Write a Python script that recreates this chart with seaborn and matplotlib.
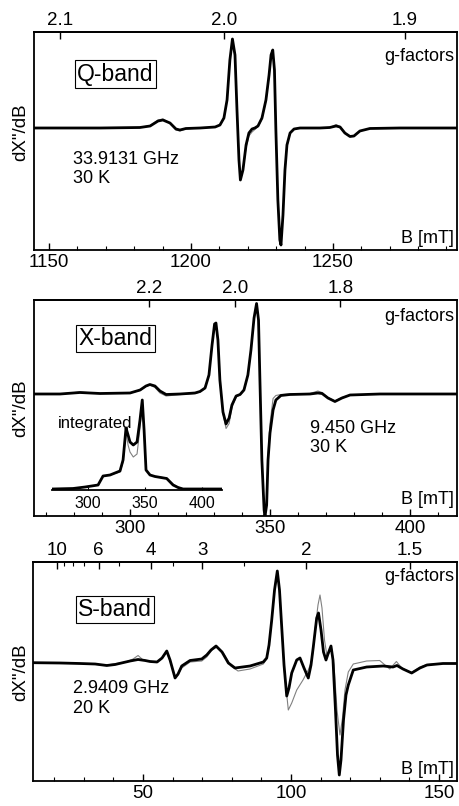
import numpy as np
import pandas as pd
import matplotlib
matplotlib.use("Agg")
import matplotlib.pyplot as plt
import seaborn as sns
from matplotlib.ticker import MultipleLocator, FixedLocator, NullFormatter

sns.set_theme(style="ticks")
plt.rcParams['font.family'] = ['Liberation Sans', 'DejaVu Sans']
plt.rcParams.update({"text.color": "black", "axes.labelcolor": "black",
                     "xtick.color": "black", "ytick.color": "black",
                     "axes.edgecolor": "black"})

# ---------------- data ----------------
# Q-band, 33.9131 GHz
q_freq = 33.9131
q_B = [1144.7, 1168.0, 1182.0, 1185.6, 1188.4, 1190.1, 1192.6, 1194.7, 1196.1, 1198.2,
       1203.2, 1208.5, 1210.2, 1211.6, 1212.7, 1213.7, 1214.6, 1215.5, 1216.2, 1216.9,
       1217.4, 1218.3, 1219.4, 1220.4, 1221.5, 1222.5, 1223.6, 1225.0, 1226.4, 1227.5,
       1228.2, 1228.8, 1229.4, 1229.9, 1230.6, 1231.3, 1231.7, 1232.4, 1233.1, 1233.8,
       1234.9, 1236.3, 1238.4, 1245.4, 1248.9, 1251.1, 1252.5, 1254.2, 1256.0, 1257.4,
       1259.5, 1263.0, 1273.6, 1293.7]
q_exp = [0, 0, 0.5, 2, 7, 8, 5, -1, -2, -0.5,
         0, 1, 3, 10, 28, 68, 89, 73, 18, -32,
         -52, -42, -17, -5, -1, 0, 2, 10, 28, 53,
         73, 78, 58, -2, -72, -112, -117, -87, -42, -17,
         -5, -1, 0, 0, 0.5, 2, 1, -5, -8.5, -8,
         -3, -0.5, 0, 0]
q_sim = [0, 0, 0.5, 2.5, 8, 9, 5, -2, -3, -1,
         0, 1, 3, 10, 28, 67, 88, 72, 20, -30,
         -50, -42, -20, -8, -4, -1.5, 1.5, 9, 27, 52,
         72, 77, 60, 0, -70, -110, -116, -88, -44, -18,
         -5, -1, 0, 0, 0.5, 3.5, 1.5, -5, -8, -8,
         -3, -0.5, 0, 0]
q_g_major = [2.1, 2.0, 1.9]
q_g_labels = ["2.1", "2.0", "1.9"]
q_B_ticks = [1150, 1200, 1250]

# X-band, 9.450 GHz
x_freq = 9.450
x_B = [265.7, 275.0, 282.1, 289.3, 300.0, 303.6, 305.7, 307.1, 308.9, 310.7,
       312.9, 317.9, 323.2, 325.0, 326.8, 328.2, 329.3, 330.2, 330.7, 331.4,
       332.1, 333.2, 334.3, 335.4, 336.4, 337.9, 339.3, 340.7, 342.1, 343.2,
       344.3, 345.2, 345.9, 346.4, 347.1, 347.9, 348.2, 348.8, 349.3, 350.0,
       351.1, 352.1, 353.9, 357.1, 364.3, 367.1, 368.6, 370.7, 373.2, 375.7,
       378.6, 389.3, 416.8]
x_exp = [-0.5, -0.5, 1, 0, 0.5, 3.5, 7.5, 9, 7.5, 2.5,
         -1, -0.5, 0.5, 2, 5.5, 18.5, 48.5, 69.5, 70.5, 53.5,
         13.5, -18.5, -30.5, -24.5, -11.5, -2.5, -1, 3.5, 18.5, 43.5,
         75.5, 90, 73.5, 13.5, -66.5, -116.5, -123, -111.5, -66.5, -39.5,
         -16.5, -6.5, -2, -1, -0.5, 0.5, 0, -4.5, -8, -4.5,
         -1.5, -0.5, -0.5]
x_sim = [-0.5, -0.5, 1.5, 0, 0.5, 3, 7, 8.5, 6, 0.5,
         -2.5, -1, 0, 1.5, 5, 18, 47, 68, 69.5, 53,
         15, -20, -35, -30, -14, -3.5, -1.5, 3, 18, 43,
         75, 89, 73, 13, -66, -116, -123, -110, -60, -30,
         -5, -2, -1, -0.5, 0, 2.5, 1, -4, -7.5, -4,
         -1.5, -0.5, -0.5]
x_g_major = [2.2, 2.0, 1.8]
x_g_labels = ["2.2", "2.0", "1.8"]
x_B_ticks = [300, 350, 400]

# X-band integrated spectrum (inset)
int_B = [268.3, 286.8, 297.4, 308.8, 313.2, 319.3, 328.1, 330.8, 333.4, 335.2,
         336.9, 339.8, 343.1, 345.7, 347.7, 349.3, 351.0, 354.5, 358.9, 369.2,
         374.8, 379.2, 383.6, 417.6]
int_exp = [1, 1.5, 3, 5, 14, 15, 19, 30, 62, 55,
           48, 45, 48, 70, 90, 60, 20, 15, 13.5, 11.5,
           5, 2.5, 1, 1]
int_sim = [1, 1.5, 3, 5, 14, 15, 18, 28, 58, 45,
           38, 33, 36, 62, 88, 58, 20, 15, 13.5, 12,
           6, 3, 1, 1]
int_B_ticks = [300, 350, 400]

# S-band, 2.9409 GHz
s_freq = 2.9409
s_B_exp = [12.84, 21.96, 28.72, 33.78, 37.74, 40.54, 45.61, 48.31, 50.68, 52.36,
           54.73, 56.42, 58.01, 59.12, 60.81, 61.82, 63.07, 65.88, 69.83, 71.52,
           72.97, 74.66, 76.69, 78.82, 81.08, 86.15, 90.64, 91.79, 92.57, 93.48,
           94.43, 95.37, 96.11, 96.86, 97.64, 98.55, 99.32, 100.24, 101.93, 103.04,
           104.39, 105.84, 106.76, 107.53, 108.68, 109.29, 110.14, 110.98, 111.82, 112.50,
           113.51, 114.19, 115.03, 115.71, 116.32, 116.89, 117.74, 118.58, 119.36, 121.05,
           125.57, 131.18, 134.46, 135.81, 137.84, 140.78, 143.58, 145.95, 151.35, 156.08]
s_exp = [1.3, 1, 0.5, 0, -1.5, -0.5, 3, 4.5, 3.5, 2.5,
         2, 6, 13, 4, -14, -10, -2, 3.5, 5, 9,
         14, 18, 12, 1, -4, -2, 2, 6, 19, 44,
         74, 93, 74, 37, -1, -32, -24, -9, 4, 6,
         -4, -14, -1, 17, 46, 51, 34, 12, 4, 10,
         18, 4, -46, -91, -111, -96, -56, -31, -21, -6,
         -3, -2, -3, -1.5, -5, -9, -4, -1, 0.5, 0.5]
s_B_sim = [12.84, 28.72, 37.74, 44.26, 46.62, 48.31, 50.0, 52.36, 54.73, 56.42,
           58.01, 59.12, 60.81, 61.82, 63.07, 65.88, 69.83, 71.52, 73.31, 75.0,
           77.36, 79.73, 82.09, 86.15, 90.64, 91.79, 92.57, 93.48, 94.43, 95.37,
           96.11, 96.86, 97.64, 99.09, 100.24, 101.93, 104.05, 105.84, 107.09, 108.11,
           109.12, 109.80, 110.47, 111.32, 112.16, 112.84, 113.68, 114.53, 115.54, 116.55,
           117.40, 118.24, 119.36, 121.05, 125.57, 129.97, 133.36, 135.62, 137.43, 140.78,
           143.58, 145.95, 151.35, 156.08]
s_sim = [1, 0.5, -1, 2, 5, 8.5, 4, 2.5, 2, 6,
         12, 3, -13, -11, -4, 2, 3, 7, 14, 17,
         10, -2, -7, -5, 0, 5, 18, 43, 72, 91,
         72, 36, -4, -46, -39, -26, -16, -6, 4, 34,
         59, 69, 56, 24, 8, 11, 16, -1, -46, -71,
         -54, -26, -8, 0, 3, 3.5, -5, 2.5, -4, -8.5,
         -3, -0.5, 0.5, 0.5]
s_g_major = [10, 6, 4, 3, 2, 1.5]
s_g_labels = ["10", "6", "4", "3", "2", "1.5"]
s_g_minor = [9, 8, 7, 5, 3.5, 2.5]
s_B_ticks = [50, 100, 150]

# ---------------- layout ----------------
W, H = 460, 806
fig = plt.figure(figsize=(W / 100, H / 100), dpi=100)


def frac_box(x0, y0, x1, y1):
    return [x0 / W, 1 - y1 / H, (x1 - x0) / W, (y1 - y0) / H]


def fp(x, y):
    return x / W, 1 - y / H


TICK_FS = 13.5
LABEL_FS = 13
BAND_FS = 16.5
K_G = 71.4477  # g * B[mT] = K_G * nu[GHz]
SIM_COLOR = "0.5"


def make_panel(box, Bx, Be, Bs, ys, xlim, ylim, freq, g_major, g_labels, g_minor,
               B_ticks, minor_step=10):
    ax = fig.add_axes(box)
    df_e = pd.DataFrame({"B": Bx, "I": Be})
    df_s = pd.DataFrame({"B": Bs, "I": ys})
    sns.lineplot(data=df_s, x="B", y="I", ax=ax, color=SIM_COLOR, lw=0.8,
                 estimator=None, sort=False)
    sns.lineplot(data=df_e, x="B", y="I", ax=ax, color="black", lw=2.0,
                 estimator=None, sort=False)
    ax.set_xlim(*xlim)
    ax.set_ylim(*ylim)
    ax.set_xlabel("")
    ax.set_ylabel("")
    ax.set_yticks([])
    ax.set_xticks(B_ticks)
    ax.xaxis.set_minor_locator(MultipleLocator(minor_step))
    ax.tick_params(axis="x", which="major", direction="in", length=5, width=1,
                   labelsize=TICK_FS, pad=3, top=False)
    ax.tick_params(axis="x", which="minor", direction="in", length=3, width=0.8,
                   top=False)
    for sp in ax.spines.values():
        sp.set_linewidth(1.3)
        sp.set_visible(True)
    kk = K_G * freq

    def fwd(v):
        v = np.asarray(v, dtype=float)
        out = np.full_like(v, np.inf)
        np.divide(kk, v, out=out, where=v > 0)
        return out

    sec = ax.secondary_xaxis("top", functions=(fwd, fwd))
    sec.set_xticks(g_major)
    sec.set_xticklabels(g_labels)
    sec.xaxis.set_minor_locator(FixedLocator(g_minor if g_minor else []))
    sec.xaxis.set_minor_formatter(NullFormatter())
    sec.tick_params(axis="x", which="major", direction="in", length=5, width=1,
                    labelsize=TICK_FS, pad=2)
    sec.tick_params(axis="x", which="minor", direction="in", length=3, width=0.8)
    sec.spines["top"].set_linewidth(1.3)
    return ax


axQ = make_panel(frac_box(34, 32, 457, 250), q_B, q_exp, q_B, q_sim,
                 (1144.7, 1293.7), (-122, 96), q_freq, q_g_major, q_g_labels, None,
                 q_B_ticks)
axX = make_panel(frac_box(34, 300, 457, 516), x_B, x_exp, x_B, x_sim,
                 (265.7, 416.8), (-122.5, 93.5), x_freq, x_g_major, x_g_labels, None,
                 x_B_ticks)
axS = make_panel(frac_box(33, 562, 457, 781), s_B_exp, s_exp, s_B_sim, s_sim,
                 (12.8, 156.1), (-117, 102), s_freq, s_g_major, s_g_labels, s_g_minor,
                 s_B_ticks)

# inset: integrated X-band spectrum
axI = fig.add_axes(frac_box(51.7, 398, 221.7, 490))
axI.patch.set_alpha(0)
sns.lineplot(x=int_B, y=int_sim, ax=axI, color=SIM_COLOR, lw=0.8, estimator=None, sort=False)
sns.lineplot(x=int_B, y=int_exp, ax=axI, color="black", lw=2.0, estimator=None, sort=False)
axI.set_xlim(268.0, 417.6)
axI.set_ylim(0, 92)
axI.set_yticks([])
axI.set_xticks(int_B_ticks)
for s in ["left", "right", "top"]:
    axI.spines[s].set_visible(False)
axI.spines["bottom"].set_linewidth(1.3)
axI.tick_params(axis="x", direction="in", length=2, width=0.8, labelsize=11.5, pad=4)

# ---------------- texts ----------------
box_kw = dict(boxstyle="square,pad=0.1", fc="white", ec="black", lw=0.8)
for label, (cx, cy) in [("Q-band", (115.5, 74)), ("X-band", (115.5, 338.5)),
                        ("S-band", (115, 609.5))]:
    fig.text(*fp(cx, cy), label, fontsize=BAND_FS, ha="center", va="center", bbox=box_kw)

for yb in [61, 321, 581]:
    fig.text(*fp(454, yb), "g-factors", fontsize=LABEL_FS, ha="right", va="baseline")
for yb in [243, 504, 774]:
    fig.text(*fp(454, yb), "B [mT]", fontsize=LABEL_FS, ha="right", va="baseline")

fig.text(*fp(73, 163.5), "33.9131 GHz", fontsize=LABEL_FS, ha="left", va="baseline")
fig.text(*fp(73, 183), "30 K", fontsize=LABEL_FS, ha="left", va="baseline")
fig.text(*fp(310, 433), "9.450 GHz", fontsize=LABEL_FS, ha="left", va="baseline")
fig.text(*fp(310, 452), "30 K", fontsize=LABEL_FS, ha="left", va="baseline")
fig.text(*fp(73, 693), "2.9409 GHz", fontsize=LABEL_FS, ha="left", va="baseline")
fig.text(*fp(73, 713), "20 K", fontsize=LABEL_FS, ha="left", va="baseline")
fig.text(*fp(58, 428), "integrated", fontsize=12, ha="left", va="baseline")

for yc in [132, 408, 672]:
    fig.text(*fp(21, yc), 'dX"/dB', fontsize=13.5, rotation=90, ha="center", va="center")

fig.savefig("out.png", dpi=100)
